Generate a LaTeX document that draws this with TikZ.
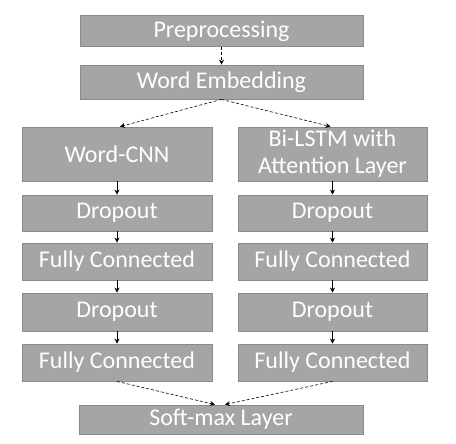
\documentclass[tikz,border=0pt]{standalone}
\usepackage{fontspec}
\setmainfont{Carlito}
\usetikzlibrary{arrows.meta}
\definecolor{boxfill}{HTML}{A5A5A5}
\definecolor{boxline}{HTML}{8A8A8A}
\tikzset{
  blk/.style={draw=boxline, line width=0.8pt, fill=boxfill, text=white, inner sep=0pt, font=\fontsize{24}{27}\selectfont, align=center},
  con/.style={-{Stealth[length=5pt,width=5pt]}, line width=0.6pt, black},
  dcon/.style={con, densely dashed}
}
\begin{document}
\begin{tikzpicture}[x=1pt,y=-1pt]
\useasboundingbox (0,0) rectangle (456,444);
\node[blk, minimum width=283pt, minimum height=31pt] (pre) at (221.5,31) {Preprocessing};
\node[blk, minimum width=283pt, minimum height=34pt] (emb) at (221.5,82) {Word Embedding};
\node[blk, minimum width=190pt, minimum height=54pt] (cnn) at (117,154) {Word-CNN};
\node[blk, minimum width=189pt, minimum height=54pt] (lstm) at (332.5,154) {Bi-LSTM with\\Attention Layer};
\node[blk, minimum width=190pt, minimum height=36pt] (d1) at (117,213) {Dropout};
\node[blk, minimum width=189pt, minimum height=36pt] (d1r) at (332.5,213) {Dropout};
\node[blk, minimum width=190pt, minimum height=37pt] (f1) at (117,261.5) {Fully Connected};
\node[blk, minimum width=189pt, minimum height=37pt] (f1r) at (332.5,261.5) {Fully Connected};
\node[blk, minimum width=190pt, minimum height=38pt] (d2) at (117,312) {Dropout};
\node[blk, minimum width=189pt, minimum height=38pt] (d2r) at (332.5,312) {Dropout};
\node[blk, minimum width=190pt, minimum height=37pt] (f2) at (117,362.5) {Fully Connected};
\node[blk, minimum width=189pt, minimum height=37pt] (f2r) at (332.5,362.5) {Fully Connected};
\node[blk, minimum width=284pt, minimum height=29pt] (soft) at (221,419.5) {Soft-max Layer};
\draw[dcon] (pre.south) -- (emb.north);
\draw[dcon] (emb.south) -- ([xshift=3pt]cnn.north);
\draw[dcon] (emb.south) -- ([xshift=-2pt]lstm.north);
\draw[con] (cnn.south) -- (d1.north);
\draw[con] (lstm.south) -- (d1r.north);
\draw[con] (d1.south) -- (f1.north);
\draw[con] (d1r.south) -- (f1r.north);
\draw[con] (f1.south) -- (d2.north);
\draw[con] (f1r.south) -- (d2r.north);
\draw[con] (d2.south) -- (f2.north);
\draw[con] (d2r.south) -- (f2r.north);
\draw[dcon] (f2.south) -- ([xshift=-6pt]soft.north);
\draw[dcon] (f2r.south) -- ([xshift=4pt]soft.north);
\end{tikzpicture}
\end{document}
